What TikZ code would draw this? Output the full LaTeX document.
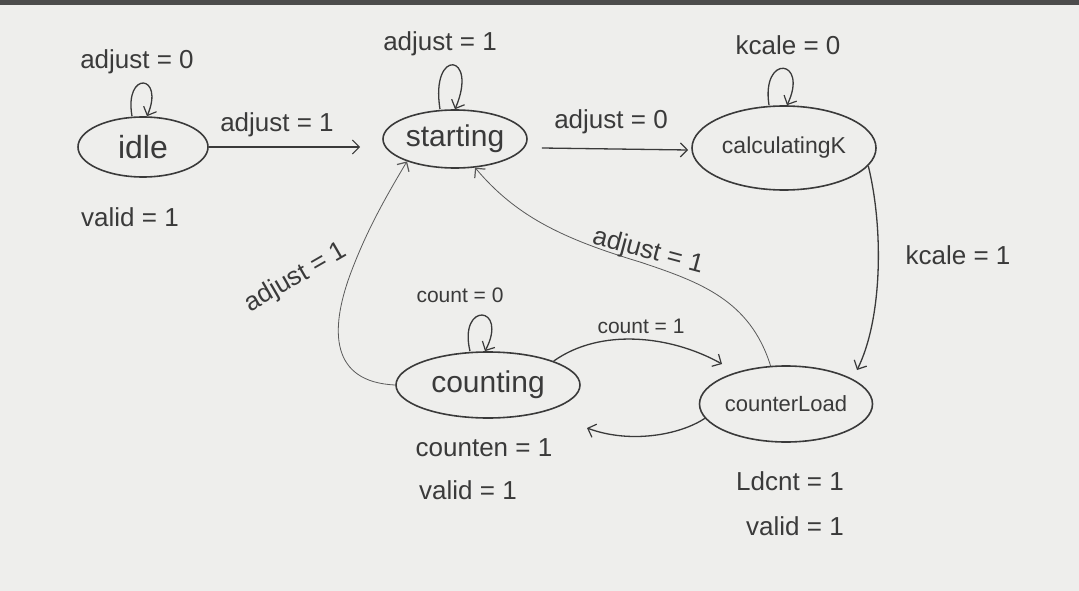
\documentclass[tikz,border=0pt]{standalone}
\usepackage{fontspec}
\setmainfont{Liberation Sans}
\usetikzlibrary{shapes.geometric,arrows.meta}
\definecolor{ink}{HTML}{3A3A3A}
\definecolor{faint}{HTML}{5A5A5A}
\definecolor{paper}{HTML}{EEEEEC}
\newcommand{\fsz}[1]{\fontsize{#1}{#1}\selectfont}
\begin{document}
\begin{tikzpicture}[x=1pt,y=-1pt,
  state/.style={draw=ink, ellipse, line width=1.6pt, inner sep=0pt, text=ink},
  tip/.style={-{Straight Barb[length=7pt,width=14pt,line width=1.2pt]}},
  edge/.style={draw=ink, line width=1.3pt, tip},
  thinedge/.style={draw=faint, line width=0.8pt, tip},
  lbl/.style={text=ink, inner sep=1pt, font=\fsz{26}},
  small/.style={text=ink, inner sep=1pt, font=\fsz{21}}]
\fill[paper] (0,0) rectangle (1079,591);
\useasboundingbox (0,0) rectangle (1079,591);
\fill[black!70] (0,0) rectangle (1079,5);

% states
\node[state, minimum width=130pt, minimum height=60pt, font=\fsz{32}] (idle) at (143,147) {idle};
\node[state, minimum width=144pt, minimum height=58pt, font=\fsz{30}] (starting) at (455,139) {starting};
\node[state, minimum width=184pt, minimum height=84pt, font=\fsz{23}] (calc) at (784,148) {calculatingK};
\node[state, minimum width=184pt, minimum height=66pt, font=\fsz{30}] (counting) at (488,385) {counting};
\node[state, minimum width=162pt, minimum height=76pt, font=\fsz{22}] (load) at (786,404) {counterLoad};

% free ends
\coordinate (loadin) at (857,370);
\coordinate (countin) at (587,428);
\coordinate (loadin2) at (722,364);

% self loops
\draw[edge] ([xshift=-11pt]idle.north) .. controls +(-8,-46) and +(18,-42) .. ([xshift=4pt]idle.north);
\draw[edge] ([xshift=-15pt]starting.north) .. controls +(-10,-62) and +(24,-56) .. ([xshift=0pt]starting.north);
\draw[edge] ([xshift=-15pt]calc.north) .. controls +(-8,-52) and +(22,-46) .. ([xshift=3pt]calc.north);
\draw[edge] ([xshift=-18pt]counting.north) .. controls +(-12,-50) and +(24,-46) .. ([xshift=-3pt]counting.north);

% transitions
\draw[edge] (idle.east) -- ([xshift=-22pt]idle.east -| starting.west);
\draw[edge] ([xshift=14pt,yshift=-9pt]starting.east) -- ([xshift=-3pt,yshift=-2pt]calc.west);
\draw[edge] (calc.-12) .. controls (884,230) and (882,320) .. (loadin);
\draw[thinedge] (counting.west) .. controls (330,382) and (330,330) .. (350,275)
                 .. controls (366,232) and (384,200) .. (starting.205);
\draw[thinedge] (load.112) .. controls (750,300) and (700,282) .. (640,262)
                 .. controls (560,238) and (515,215) .. (starting.305);
\draw[edge] (counting.20) .. controls (600,328) and (670,335) .. (loadin2);
\draw[edge] (load.190) .. controls (680,435) and (630,444) .. (countin);

% labels
\node[lbl] (l1) at (137,62) {adjust = 0};
\node[lbl] (l2) at (130,217) {valid = 1};
\node[lbl] (l3) at (277,125) {adjust = 1};
\node[lbl] (l4) at (440,44) {adjust = 1};
\node[lbl] (l5) at (611,122) {adjust = 0};
\node[lbl] (l6) at (788,45) {kcale = 0};
\node[lbl] (l7) at (958,255) {kcale = 1};
\node[lbl, rotate=30] (l8) at (296,278) {adjust = 1};
\node[lbl, rotate=-15] (l9) at (648,252) {adjust = 1};
\node[small] (l10) at (460,295) {count = 0};
\node[small] (l11) at (641,326) {count = 1};
\node[lbl] (l12) at (484,448) {counten = 1};
\node[lbl] (l13) at (468,490) {valid = 1};
\node[lbl] (l14) at (790,481) {Ldcnt = 1};
\node[lbl] (l15) at (795,526) {valid = 1};
\end{tikzpicture}
\end{document}
